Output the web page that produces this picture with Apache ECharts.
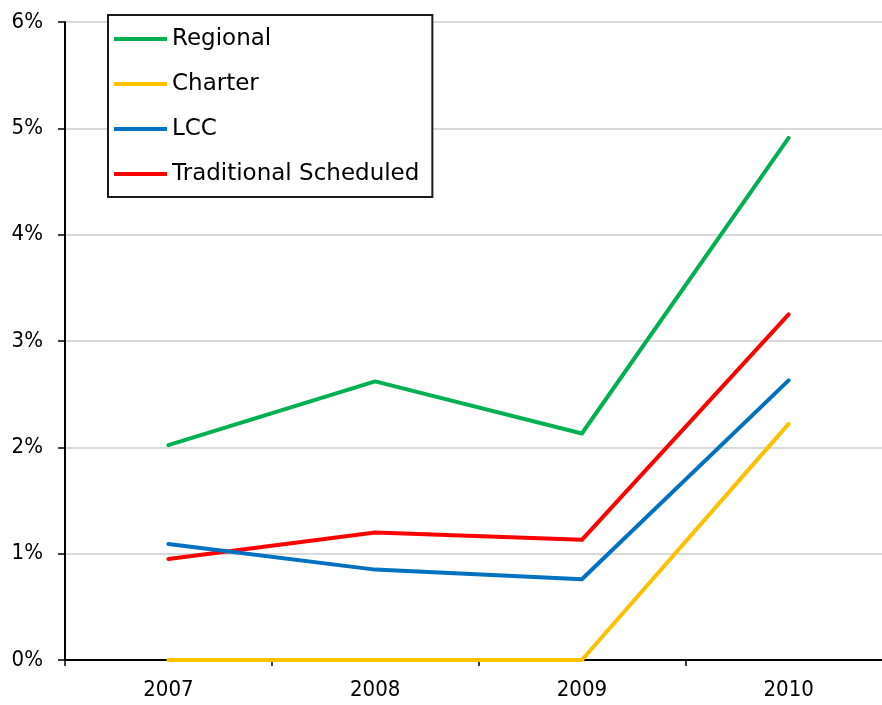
<!DOCTYPE html>
<html>
<head>
<meta charset="utf-8">
<script src="https://cdn.jsdelivr.net/npm/echarts@6/dist/echarts.min.js"></script>
<style>
  html, body { margin: 0; padding: 0; background: #ffffff; overflow: hidden; }
  /* the plot area runs a little past the right edge of the window */
  #chart { width: 892px; height: 705px; }
</style>
</head>
<body>
<div id="chart"></div>
<script>
// Years on the category axis
const years = ['2007', '2008', '2009', '2010'];

// Share of flights per carrier type (%)
const regional = [2.02, 2.62, 2.13, 4.91];
const charter = [0, 0, 0, 2.22];
const lcc = [1.09, 0.85, 0.76, 2.63];
const traditional = [0.95, 1.20, 1.13, 3.25];

const seriesNames = ['Regional', 'Charter', 'LCC', 'Traditional Scheduled'];
const seriesValues = [regional, charter, lcc, traditional];
const seriesColors = ['#00B050', '#FFC000', '#0070C0', '#FF0000'];

const axisFont = '"DejaVu Sans Condensed", "DejaVu Sans", sans-serif';
const legendFont = '"DejaVu Sans", sans-serif';

const chart = echarts.init(document.getElementById('chart'), null, { renderer: 'canvas' });

chart.setOption({
  animation: false,
  backgroundColor: '#ffffff',
  grid: { left: 65, top: 22, right: 0, bottom: 45, containLabel: false },
  legend: {
    orient: 'vertical',
    left: 108,
    top: 15,
    backgroundColor: '#ffffff',
    borderColor: '#1a1a1a',
    borderWidth: 2,
    padding: [11, 13, 10, 6],
    icon: 'rect',
    itemWidth: 53,
    itemHeight: 4,
    itemGap: 19,
    textStyle: { fontFamily: legendFont, fontSize: 23, color: '#000000', lineHeight: 26 },
    data: seriesNames
  },
  xAxis: {
    type: 'category',
    data: years,
    boundaryGap: true,
    axisLine: { show: true, lineStyle: { color: '#000000', width: 2 } },
    axisTick: { show: true, length: 6, lineStyle: { color: '#000000', width: 1.5 } },
    axisLabel: { fontFamily: axisFont, fontSize: 22, color: '#000000', margin: 19 },
    splitLine: { show: false }
  },
  yAxis: {
    type: 'value',
    min: 0,
    max: 6,
    interval: 1,
    axisLine: { show: true, lineStyle: { color: '#000000', width: 2 } },
    axisTick: { show: true, length: 7, lineStyle: { color: '#000000', width: 1.5 } },
    axisLabel: { fontFamily: axisFont, fontSize: 22, color: '#000000', margin: 22, formatter: v => v + '%' },
    splitLine: { show: true, lineStyle: { color: '#d9d9d9', width: 2 } }
  },
  series: seriesNames.map((name, i) => ({
    name: name,
    type: 'line',
    data: seriesValues[i],
    symbol: 'none',
    color: seriesColors[i],
    lineStyle: { color: seriesColors[i], width: 4, cap: 'round', join: 'round' },
    z: 3 + (seriesNames.length - i)
  }))
});
</script>
</body>
</html>
